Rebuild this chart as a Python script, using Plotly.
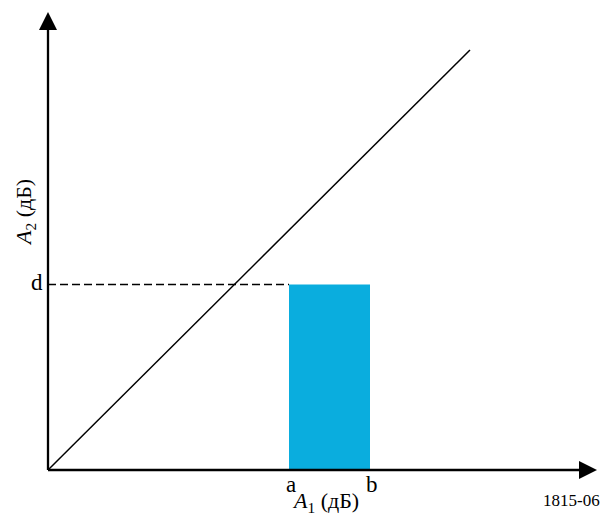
import plotly.graph_objects as go

# Data (units: abstract, origin at axes crossing)
x_axis_end = 549
y_axis_end = 458
diag_x = [0, 422]
diag_y = [0, 420]
a_val = 241
b_val = 322
d_val = 185.5
rect_color = "#0AADDE"
FONT = "Liberation Serif, Times New Roman, serif"

fig = go.Figure()

# shaded rectangle a..b up to d
fig.add_trace(go.Scatter(
    x=[a_val, b_val, b_val, a_val, a_val], y=[0, 0, d_val, d_val, 0],
    mode="none", fill="toself", fillcolor=rect_color, hoverinfo="skip"))

# dashed line at d
fig.add_trace(go.Scatter(
    x=[0, a_val], y=[d_val, d_val], mode="lines",
    line=dict(color="black", width=1.5, dash="8px,4px"), hoverinfo="skip"))

# diagonal
fig.add_trace(go.Scatter(
    x=diag_x, y=diag_y, mode="lines",
    line=dict(color="black", width=1.5), hoverinfo="skip"))

# axes
fig.add_trace(go.Scatter(
    x=[0, x_axis_end - 10], y=[0, 0], mode="lines",
    line=dict(color="black", width=2.3), hoverinfo="skip"))
fig.add_trace(go.Scatter(
    x=[0, 0], y=[0, y_axis_end - 10], mode="lines",
    line=dict(color="black", width=2.3), hoverinfo="skip"))

# arrow heads
fig.add_trace(go.Scatter(
    x=[x_axis_end], y=[0], mode="markers",
    marker=dict(symbol="arrow-right", size=18, color="black", line=dict(width=0)),
    hoverinfo="skip"))
fig.add_trace(go.Scatter(
    x=[0], y=[y_axis_end], mode="markers",
    marker=dict(symbol="arrow-up", size=18, color="black", line=dict(width=0)),
    hoverinfo="skip"))

annotations = [
    dict(x=a_val + 2, y=-14, text="a", font=dict(size=23, family=FONT, color="black")),
    dict(x=b_val + 2, y=-14, text="b", font=dict(size=23, family=FONT, color="black")),
    dict(x=-11, y=d_val + 2, text="d", font=dict(size=23, family=FONT, color="black")),
    dict(x=277, y=-32, text="<i>A</i><sub>1</sub> (дБ)", font=dict(size=22, family=FONT, color="black")),
    dict(x=-23, y=257, text="<i>A</i><sub>2</sub> (дБ)", font=dict(size=22, family=FONT, color="black"),
         textangle=-90),
    dict(x=523, y=-30, text="1815-06", font=dict(size=17, family=FONT, color="black")),
]
for an in annotations:
    an.update(xref="x", yref="y", showarrow=False, xanchor="center", yanchor="middle")

fig.update_layout(
    width=603, height=517,
    margin=dict(l=0, r=0, t=0, b=0),
    paper_bgcolor="white", plot_bgcolor="white",
    showlegend=False,
    annotations=annotations,
    xaxis=dict(range=[-48, 555], visible=False, fixedrange=True),
    yaxis=dict(range=[-47, 470], visible=False, fixedrange=True),
)

fig.write_html("out.html")
